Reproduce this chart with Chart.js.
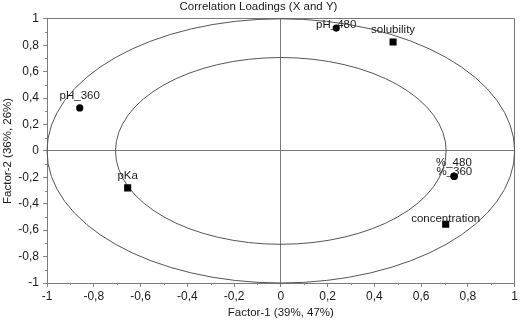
<!DOCTYPE html>
<html>
<head>
<meta charset="utf-8">
<script src="https://cdn.jsdelivr.net/npm/chart.js@4/dist/chart.umd.min.js"></script>
<style>
  html,body{margin:0;padding:0;background:#fff;}
  #wrap{width:520px;height:325px;}
</style>
</head>
<body>
<div id="wrap"><canvas id="c" width="520" height="325"></canvas></div>
<script>
// X variables (squares)
const xVarNames   = ['solubility', 'pKa', 'concentration'];
const xVarFactor1 = [0.48, -0.655, 0.705];
const xVarFactor2 = [0.825, -0.28, -0.555];
// Y variables (circles)
const yVarNames   = ['pH_480', 'pH_360', '%_480', '%_360'];
const yVarFactor1 = [0.237, -0.86, 0.74, 0.742];
const yVarFactor2 = [0.93, 0.325, -0.19, -0.193];
// explained-variance ellipses (radius in loading units)
const circleRadii = [1, 0.707];

// label vertical offsets (px, style only)
const xLabelDy = [-12, -12, -5];
const yLabelDy = [-3, -12, -13, -5];

const fmt = v => {
  const r = Math.round(v * 10) / 10;
  return String(r).replace('.', ',');
};

const FONT = "'Liberation Sans', Arial, sans-serif";

const decorations = {
  id: 'decorations',
  beforeDatasetsDraw(chart) {
    const {ctx, scales: {x, y}, chartArea} = chart;
    ctx.save();
    // ellipses
    ctx.strokeStyle = '#555';
    ctx.lineWidth = 1;
    const cx = x.getPixelForValue(0), cy = y.getPixelForValue(0);
    circleRadii.forEach(r => {
      const rx = x.getPixelForValue(r) - cx;
      const ry = cy - y.getPixelForValue(r);
      ctx.beginPath();
      ctx.ellipse(cx, cy, rx, ry, 0, 0, Math.PI * 2);
      ctx.stroke();
    });
    // minor ticks
    ctx.strokeStyle = '#888';
    for (let i = -9; i <= 9; i += 2) {
      const v = i / 10;
      const px = Math.round(x.getPixelForValue(v)) + 0.5;
      ctx.beginPath();
      ctx.moveTo(px, chartArea.bottom);
      ctx.lineTo(px, chartArea.bottom + 2);
      ctx.stroke();
      const py = Math.round(y.getPixelForValue(v)) + 0.5;
      ctx.beginPath();
      ctx.moveTo(chartArea.left, py);
      ctx.lineTo(chartArea.left - 2, py);
      ctx.stroke();
    }
    ctx.restore();
  },
  afterDatasetsDraw(chart) {
    const {ctx} = chart;
    ctx.save();
    ctx.font = '11.5px ' + FONT;
    ctx.fillStyle = '#1a1a1a';
    ctx.textAlign = 'center';
    ctx.textBaseline = 'middle';
    chart.data.datasets.forEach((ds, di) => {
      const meta = chart.getDatasetMeta(di);
      meta.data.forEach((pt, i) => {
        ctx.fillText(ds.names[i], pt.x, pt.y + ds.labelDy[i]);
      });
    });
    ctx.restore();
  }
};

const gridColor = c => {
  const v = c.tick && c.tick.value;
  return (Math.abs(v) < 1e-9 || Math.abs(Math.abs(v) - 1) < 1e-9) ? '#7a7a7a' : 'rgba(0,0,0,0)';
};

new Chart(document.getElementById('c'), {
  type: 'scatter',
  data: {
    datasets: [
      {
        label: 'X',
        names: xVarNames,
        labelDy: xLabelDy,
        data: xVarNames.map((n, i) => ({x: xVarFactor1[i], y: xVarFactor2[i]})),
        pointStyle: 'rect',
        pointRadius: 5,
        backgroundColor: '#000',
        borderColor: '#000',
        borderWidth: 0
      },
      {
        label: 'Y',
        names: yVarNames,
        labelDy: yLabelDy,
        data: yVarNames.map((n, i) => ({x: yVarFactor1[i], y: yVarFactor2[i]})),
        pointStyle: 'circle',
        pointRadius: 3.6,
        backgroundColor: '#000',
        borderColor: '#000',
        borderWidth: 0
      }
    ]
  },
  options: {
    responsive: false,
    animation: false,
    devicePixelRatio: 1,
    layout: {padding: {top: 0, right: 3, left: 0, bottom: 0}},
    plugins: {
      legend: {display: false},
      tooltip: {enabled: false},
      title: {
        display: true,
        text: 'Correlation Loadings (X and Y)',
        color: '#1a1a1a',
        font: {family: FONT, size: 11.5, weight: 'normal'},
        padding: {top: 0, bottom: 5}
      }
    },
    scales: {
      x: {
        type: 'linear',
        min: -1, max: 1,
        ticks: {stepSize: 0.2, callback: fmt, color: '#1a1a1a', font: {family: FONT, size: 12}, padding: 2, maxRotation: 0},
        grid: {color: gridColor, tickColor: '#888', tickLength: 4, drawOnChartArea: true},
        border: {display: false},
        title: {display: true, text: 'Factor-1 (39%, 47%)', color: '#1a1a1a', font: {family: FONT, size: 11.5}, padding: {top: 0, bottom: 5}},
        afterFit: s => { s.height = 42; }
      },
      y: {
        type: 'linear',
        min: -1, max: 1,
        ticks: {stepSize: 0.2, callback: fmt, color: '#1a1a1a', font: {family: FONT, size: 12}, padding: 4},
        grid: {color: gridColor, tickColor: '#888', tickLength: 4, drawOnChartArea: true},
        border: {display: false},
        title: {display: true, text: 'Factor-2 (36%, 26%)', color: '#1a1a1a', font: {family: FONT, size: 11.5}, padding: {top: 1, bottom: 0}},
        afterFit: s => { s.width = 47; }
      }
    }
  },
  plugins: [decorations]
});
</script>
</body>
</html>
